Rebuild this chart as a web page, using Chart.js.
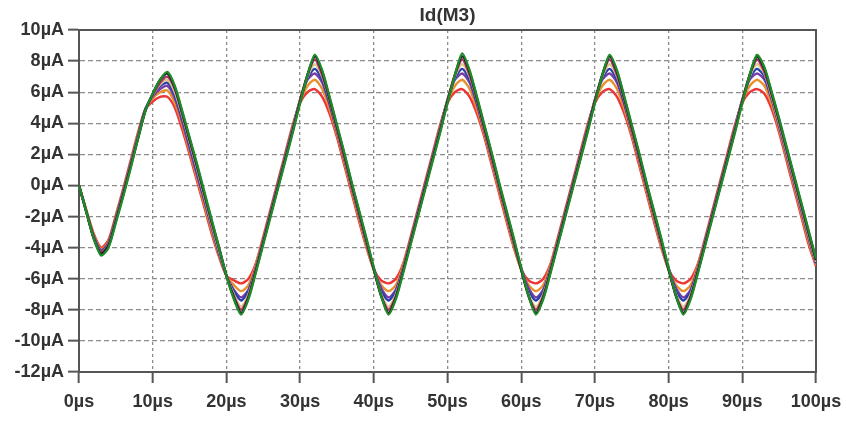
<!DOCTYPE html>
<html>
<head>
<meta charset="utf-8">
<script src="https://cdn.jsdelivr.net/npm/chart.js@4.4.1/dist/chart.umd.min.js"></script>
<style>
  html, body { margin: 0; padding: 0; background: #fff; }
  #wrap { width: 846px; height: 421px; }
</style>
</head>
<body>
<div id="wrap"><canvas id="chart-id" width="846" height="421"></canvas></div>
<script>
const title = 'Id(M3)';

// time in µs
const timeUs = [
  0, 1, 2, 3, 4, 5, 6, 7, 8, 9, 10, 11, 12, 13, 14, 15, 16, 17, 18, 19, 20,
  21, 22, 23, 24, 25, 26, 27, 28, 29, 30, 31, 32, 33, 34, 35, 36, 37, 38, 39, 40,
  41, 42, 43, 44, 45, 46, 47, 48, 49, 50, 51, 52, 53, 54, 55, 56, 57, 58, 59, 60,
  61, 62, 63, 64, 65, 66, 67, 68, 69, 70, 71, 72, 73, 74, 75, 76, 77, 78, 79, 80,
  81, 82, 83, 84, 85, 86, 87, 88, 89, 90, 91, 92, 93, 94, 95, 96, 97, 98, 99, 100
];

// Id(M3) in µA, one array per trace
const idGreen = [
  0.0, -1.7, -3.4, -4.5, -4.0, -2.4, -0.7, 1.1, 3.0, 4.8, 5.9, 6.8, 7.3, 6.4, 4.8, 3.1, 1.4, -0.4, -2.2, -4.0, -5.8, -7.3,
  -8.3, -7.3, -5.6, -3.8, -2.0, -0.2, 1.6, 3.4, 5.3, 7.1, 8.4, 7.4, 5.7, 3.9, 2.1, 0.2, -1.6, -3.4, -5.3, -7.1,
  -8.3, -7.3, -5.6, -3.8, -2.0, -0.2, 1.6, 3.4, 5.3, 7.1, 8.5, 7.4, 5.7, 3.9, 2.1, 0.2, -1.6, -3.4, -5.3, -7.1,
  -8.3, -7.3, -5.6, -3.8, -2.0, -0.2, 1.6, 3.4, 5.3, 7.1, 8.4, 7.4, 5.7, 3.9, 2.1, 0.2, -1.6, -3.4, -5.3, -7.1,
  -8.3, -7.3, -5.6, -3.8, -2.0, -0.2, 1.6, 3.4, 5.3, 7.1, 8.4,
  7.6, 6.0, 4.3, 2.5, 0.7, -1.1, -2.9, -4.7
];
const idBlack = [
  0.0, -1.7, -3.4, -4.4, -3.9, -2.3, -0.6, 1.2, 3.0, 4.8, 5.9, 6.8, 7.2, 6.3, 4.7, 3.0, 1.3, -0.5, -2.3, -4.0, -5.8, -7.2,
  -8.2, -7.2, -5.5, -3.7, -1.9, -0.1, 1.7, 3.5, 5.4, 7.1, 8.3, 7.3, 5.6, 3.8, 2.0, 0.1, -1.7, -3.5, -5.4, -7.1,
  -8.2, -7.2, -5.5, -3.7, -1.9, -0.1, 1.7, 3.5, 5.4, 7.1, 8.3, 7.3, 5.6, 3.8, 2.0, 0.1, -1.7, -3.5, -5.4, -7.1,
  -8.2, -7.2, -5.5, -3.7, -1.9, -0.1, 1.7, 3.5, 5.4, 7.1, 8.3, 7.3, 5.6, 3.8, 2.0, 0.1, -1.7, -3.5, -5.4, -7.1,
  -8.2, -7.2, -5.5, -3.7, -1.9, -0.1, 1.7, 3.5, 5.4, 7.1, 8.3,
  7.5, 5.9, 4.2, 2.4, 0.6, -1.2, -3.0, -4.8
];
const idMagenta = [
  0.0, -1.7, -3.4, -4.3, -3.8, -2.2, -0.5, 1.3, 3.1, 4.8, 5.8, 6.6, 7.0, 6.2, 4.6, 2.9, 1.2, -0.6, -2.4, -4.1, -5.8, -7.1,
  -8.0, -7.1, -5.4, -3.6, -1.8, 0.0, 1.8, 3.6, 5.5, 7.1, 8.1, 7.1, 5.5, 3.6, 1.8, 0.0, -1.8, -3.6, -5.4, -7.1,
  -8.0, -7.1, -5.4, -3.6, -1.8, 0.0, 1.8, 3.6, 5.5, 7.1, 8.1, 7.1, 5.5, 3.6, 1.8, 0.0, -1.8, -3.6, -5.4, -7.1,
  -8.0, -7.1, -5.4, -3.6, -1.8, 0.0, 1.8, 3.6, 5.5, 7.1, 8.1, 7.1, 5.5, 3.6, 1.8, 0.0, -1.8, -3.6, -5.4, -7.1,
  -8.0, -7.1, -5.4, -3.6, -1.8, 0.0, 1.8, 3.6, 5.5, 7.1, 8.1,
  7.3, 5.8, 4.1, 2.3, 0.5, -1.3, -3.1, -4.8
];
const idCream = [
  0.0, -1.7, -3.4, -4.3, -3.8, -2.2, -0.5, 1.3, 3.1, 4.8, 5.8, 6.5, 6.8, 6.0, 4.5, 2.8, 1.1, -0.7, -2.5, -4.2, -5.8, -7.0,
  -7.8, -7.0, -5.4, -3.6, -1.8, 0.0, 1.8, 3.6, 5.5, 7.0, 7.8, 7.0, 5.5, 3.6, 1.8, 0.0, -1.8, -3.6, -5.4, -7.0,
  -7.8, -7.0, -5.4, -3.6, -1.8, 0.0, 1.8, 3.6, 5.5, 7.0, 7.8, 7.0, 5.5, 3.6, 1.8, 0.0, -1.8, -3.6, -5.4, -7.0,
  -7.8, -7.0, -5.4, -3.6, -1.8, 0.0, 1.8, 3.6, 5.5, 7.0, 7.8, 7.0, 5.5, 3.6, 1.8, 0.0, -1.8, -3.6, -5.4, -7.0,
  -7.8, -7.0, -5.4, -3.6, -1.8, 0.0, 1.8, 3.6, 5.5, 7.0, 7.8,
  7.2, 5.7, 4.0, 2.2, 0.4, -1.4, -3.2, -4.9
];
const idBlue = [
  0.0, -1.7, -3.3, -4.2, -3.7, -2.1, -0.4, 1.4, 3.2, 4.9, 5.8, 6.4, 6.6, 5.8, 4.3, 2.6, 0.9, -0.9, -2.6, -4.3, -5.8, -6.8,
  -7.4, -6.8, -5.3, -3.5, -1.7, 0.1, 1.9, 3.7, 5.5, 6.9, 7.5, 6.8, 5.3, 3.5, 1.7, -0.1, -1.9, -3.7, -5.4, -6.8,
  -7.4, -6.8, -5.3, -3.5, -1.7, 0.1, 1.9, 3.7, 5.5, 6.9, 7.5, 6.8, 5.3, 3.5, 1.7, -0.1, -1.9, -3.7, -5.4, -6.8,
  -7.4, -6.8, -5.3, -3.5, -1.7, 0.1, 1.9, 3.7, 5.5, 6.9, 7.5, 6.8, 5.3, 3.5, 1.7, -0.1, -1.9, -3.7, -5.4, -6.8,
  -7.4, -6.8, -5.3, -3.5, -1.7, 0.1, 1.9, 3.7, 5.5, 6.9, 7.5,
  7.0, 5.6, 3.9, 2.1, 0.3, -1.5, -3.3, -5.0
];
const idPurple = [
  0.0, -1.7, -3.3, -4.2, -3.7, -2.1, -0.4, 1.4, 3.2, 4.9, 5.7, 6.2, 6.4, 5.6, 4.1, 2.4, 0.7, -1.0, -2.7, -4.4, -5.8, -6.7,
  -7.2, -6.7, -5.3, -3.5, -1.7, 0.1, 1.9, 3.7, 5.5, 6.8, 7.2, 6.6, 5.2, 3.5, 1.7, -0.1, -1.9, -3.7, -5.3, -6.6,
  -7.2, -6.7, -5.3, -3.5, -1.7, 0.1, 1.9, 3.7, 5.5, 6.8, 7.2, 6.6, 5.2, 3.5, 1.7, -0.1, -1.9, -3.7, -5.3, -6.6,
  -7.2, -6.7, -5.3, -3.5, -1.7, 0.1, 1.9, 3.7, 5.5, 6.8, 7.2, 6.6, 5.2, 3.5, 1.7, -0.1, -1.9, -3.7, -5.3, -6.6,
  -7.2, -6.7, -5.3, -3.5, -1.7, 0.1, 1.9, 3.7, 5.5, 6.8, 7.2,
  6.8, 5.5, 3.8, 2.0, 0.2, -1.6, -3.4, -5.0
];
const idOrange = [
  0.0, -1.6, -3.2, -4.1, -3.6, -2.0, -0.3, 1.5, 3.3, 4.9, 5.6, 6.0, 6.1, 5.3, 3.9, 2.2, 0.5, -1.2, -2.9, -4.5, -5.8, -6.4,
  -6.8, -6.4, -5.1, -3.4, -1.6, 0.2, 2.0, 3.8, 5.4, 6.4, 6.8, 6.2, 4.9, 3.3, 1.5, -0.3, -2.1, -3.9, -5.4, -6.4,
  -6.8, -6.4, -5.1, -3.4, -1.6, 0.2, 2.0, 3.8, 5.4, 6.4, 6.8, 6.2, 4.9, 3.3, 1.5, -0.3, -2.1, -3.9, -5.4, -6.4,
  -6.8, -6.4, -5.1, -3.4, -1.6, 0.2, 2.0, 3.8, 5.4, 6.4, 6.8, 6.2, 4.9, 3.3, 1.5, -0.3, -2.1, -3.9, -5.4, -6.4,
  -6.8, -6.4, -5.1, -3.4, -1.6, 0.2, 2.0, 3.8, 5.4, 6.4, 6.8,
  6.4, 5.2, 3.6, 1.8, 0.0, -1.8, -3.6, -5.1
];
const idRed = [
  0.0, -1.6, -3.1, -4.0, -3.5, -1.9, -0.2, 1.6, 3.4, 4.9, 5.4, 5.7, 5.7, 5.0, 3.6, 2.0, 0.3, -1.4, -3.1, -4.6, -5.8, -6.1,
  -6.3, -6.0, -5.0, -3.3, -1.5, 0.3, 2.1, 3.9, 5.3, 6.0, 6.2, 5.7, 4.6, 3.1, 1.3, -0.5, -2.3, -4.0, -5.4, -6.1,
  -6.3, -6.0, -5.0, -3.3, -1.5, 0.3, 2.1, 3.9, 5.3, 6.0, 6.2, 5.7, 4.6, 3.1, 1.3, -0.5, -2.3, -4.0, -5.4, -6.1,
  -6.3, -6.0, -5.0, -3.3, -1.5, 0.3, 2.1, 3.9, 5.3, 6.0, 6.2, 5.7, 4.6, 3.1, 1.3, -0.5, -2.3, -4.0, -5.4, -6.1,
  -6.3, -6.0, -5.0, -3.3, -1.5, 0.3, 2.1, 3.9, 5.3, 6.0, 6.2,
  5.9, 4.9, 3.4, 1.6, -0.2, -2.0, -3.8, -5.2
];

const traces = [
  { values: idGreen, color: '#1e8a2a' },
  { values: idBlack, color: '#1a1a1a' },
  { values: idMagenta, color: '#b0306a' },
  { values: idCream, color: '#ddc98a' },
  { values: idBlue, color: '#2440b0' },
  { values: idPurple, color: '#7a3fa6' },
  { values: idOrange, color: '#e8902a' },
  { values: idRed, color: '#ee3535' }
];

const tickFont = { family: '"Liberation Sans", Arial, sans-serif', size: 18, weight: 'bold' };

// box around the plot area (LTspice style)
const framePlugin = {
  id: 'frame',
  beforeDatasetsDraw(chart) {
    const { ctx, chartArea: a } = chart;
    ctx.save();
    ctx.strokeStyle = '#555';
    ctx.lineWidth = 2;
    ctx.strokeRect(a.left, a.top, a.right - a.left, a.bottom - a.top);
    ctx.restore();
  }
};

new Chart(document.getElementById('chart-id'), {
  type: 'line',
  data: {
    datasets: traces.map(t => ({
      data: t.values.map((v, i) => ({ x: timeUs[i], y: v })),
      borderColor: t.color,
      borderWidth: 2.4,
      pointRadius: 0,
      tension: 0.25,
      fill: false
    }))
  },
  options: {
    responsive: false,
    animation: false,
    devicePixelRatio: 1,
    layout: { padding: { left: 0, right: 30, top: 0, bottom: 0 } },
    plugins: {
      legend: { display: false },
      tooltip: { enabled: false },
      title: {
        display: true,
        text: title,
        fullSize: false,
        color: '#333',
        font: { family: '"Liberation Sans", Arial, sans-serif', size: 19, weight: 'bold', lineHeight: 1 },
        padding: { top: 6, bottom: 5 }
      }
    },
    scales: {
      x: {
        type: 'linear',
        min: 0,
        max: 100,
        afterFit(scale) {
          scale.height = 49;
          scale.paddingLeft = 0;
          scale.paddingRight = 0;
        },
        ticks: {
          stepSize: 10,
          maxRotation: 0,
          autoSkip: false,
          padding: 8,
          color: '#333',
          font: tickFont,
          callback: v => v + 'µs'
        },
        grid: {
          color: '#8c8c8c',
          lineWidth: 1.3,
          tickLength: 11,
          tickColor: '#555',
          tickWidth: 2,
          tickBorderDash: []
        },
        border: { display: true, color: '#555', width: 2, dash: [3, 3] }
      },
      y: {
        min: -12,
        max: 10,
        afterFit(scale) { scale.width = 79; },
        ticks: {
          stepSize: 2,
          padding: 4,
          color: '#333',
          font: tickFont,
          callback: v => v + 'µA'
        },
        grid: {
          color: '#8c8c8c',
          lineWidth: 1.3,
          tickLength: 11,
          tickColor: '#555',
          tickWidth: 2,
          tickBorderDash: []
        },
        border: { display: true, color: '#555', width: 2, dash: [5, 3] }
      }
    }
  },
  plugins: [framePlugin]
});
</script>
</body>
</html>
